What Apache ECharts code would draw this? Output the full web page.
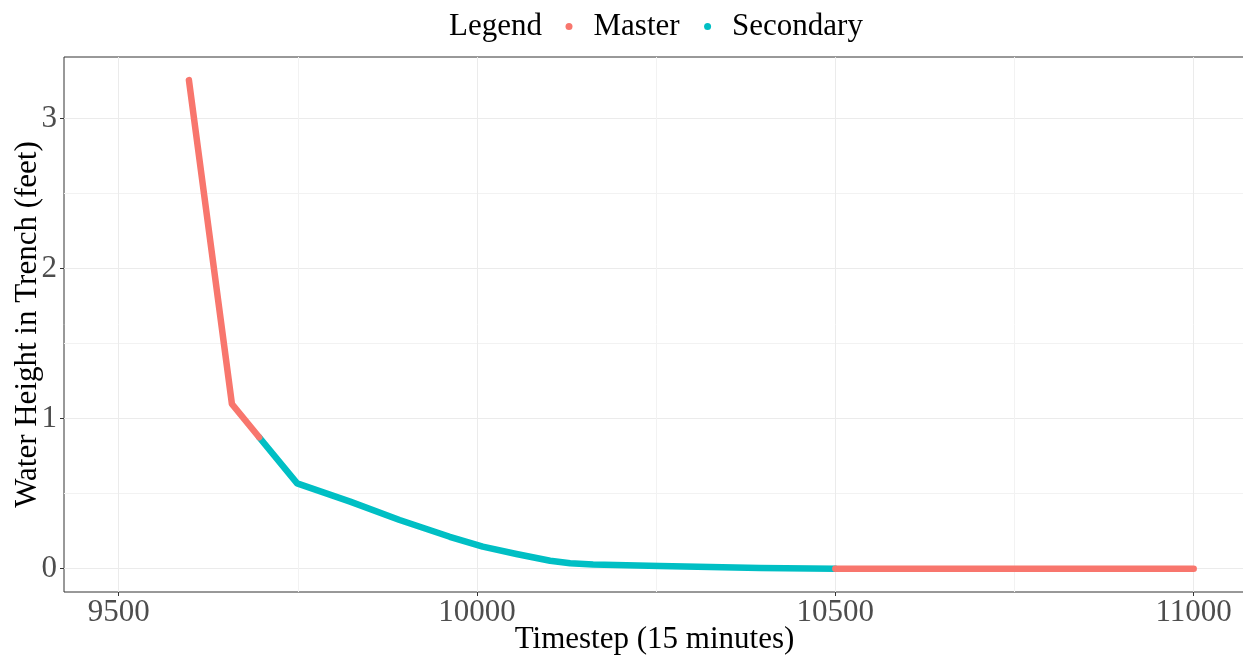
<!DOCTYPE html>
<html>
<head>
<meta charset="utf-8">
<script src="https://cdn.jsdelivr.net/npm/echarts@6/dist/echarts.min.js"></script>
<style>
  html, body { margin: 0; padding: 0; background: #ffffff; }
  #chart { width: 1243px; height: 658px; }
</style>
</head>
<body>
<div id="chart"></div>
<script>
// Water height in the trench over time, split by which unit is in control
const masterTimesteps1 = [9598, 9658, 9696];
const masterHeights1 = [3.256, 1.098, 0.876];

const secondaryTimesteps = [9696, 9749, 9823, 9892, 9962, 10008, 10055, 10102, 10130, 10162, 10255, 10395, 10500];
const secondaryHeights = [0.876, 0.569, 0.447, 0.325, 0.213, 0.147, 0.098, 0.053, 0.036, 0.028, 0.018, 0.005, 0];

const masterTimesteps2 = [10500, 11000];
const masterHeights2 = [0, 0];

const xTickValues = [9500, 10000, 10500, 11000];
const yTickValues = [0, 1, 2, 3];

const legendNames = ['Master', 'Secondary'];
const MASTER_COLOR = '#F8766D';
const SECONDARY_COLOR = '#00BFC4';

const FONT = '"Liberation Serif", "Times New Roman", serif';

function pairs(xs, ys) {
  return xs.map((x, i) => [x, ys[i]]);
}

function segment(name, color, xs, ys, z) {
  return {
    name: name,
    type: 'line',
    data: pairs(xs, ys),
    showSymbol: false,
    symbol: 'circle',
    color: color,
    z: z,
    animation: false,
    lineStyle: { color: color, width: 6.5, cap: 'round', join: 'round' }
  };
}

const chart = echarts.init(document.getElementById('chart'), null, { renderer: 'canvas' });

chart.setOption({
  backgroundColor: '#ffffff',
  animation: false,
  graphic: [{
    type: 'text',
    left: 449,
    top: 11,
    style: { text: 'Legend', font: '31px ' + FONT, fill: '#000000' }
  }],
  legend: {
    data: legendNames.map(n => ({ name: n, icon: 'circle' })),
    left: 565.5,
    top: 11,
    padding: 0,
    itemWidth: 39,
    itemHeight: 7,
    itemGap: 24.5,
    textStyle: { fontFamily: FONT, fontSize: 31, color: '#000000' }
  },
  grid: {
    left: 64,
    right: -2,
    top: 57,
    bottom: 66,
    containLabel: false,
    outerBoundsMode: 'none',
    show: true,
    borderColor: '#333333',
    borderWidth: 1
  },
  xAxis: {
    type: 'value',
    min: 9423.7,
    max: 11071.6,
    splitNumber: 3,
    name: 'Timestep (15 minutes)',
    nameLocation: 'middle',
    nameGap: 32,
    nameMoveOverlap: false,
    nameTextStyle: { fontFamily: FONT, fontSize: 31, color: '#000000' },
    axisLine: { show: false, onZero: false },
    axisTick: { show: true, length: 4, customValues: xTickValues, lineStyle: { color: '#333333' } },
    axisLabel: {
      customValues: xTickValues,
      formatter: v => String(v),
      fontFamily: FONT, fontSize: 31, color: '#4D4D4D', margin: 5
    },
    splitLine: { show: true, lineStyle: { color: '#EBEBEB', width: 1 } },
    minorTick: { show: false, splitNumber: 2 },
    minorSplitLine: { show: true, lineStyle: { color: '#F2F2F2', width: 1 } }
  },
  yAxis: {
    type: 'value',
    min: -0.155,
    max: 3.41,
    splitNumber: 4,
    name: 'Water Height in Trench (feet)',
    nameLocation: 'middle',
    nameGap: 21,
    nameMoveOverlap: false,
    nameTextStyle: { fontFamily: FONT, fontSize: 31, color: '#000000' },
    axisLine: { show: false, onZero: false },
    axisTick: { show: true, length: 4, customValues: yTickValues, lineStyle: { color: '#333333' } },
    axisLabel: {
      customValues: yTickValues,
      formatter: v => String(v),
      fontFamily: FONT, fontSize: 31, color: '#4D4D4D', margin: 7
    },
    splitLine: { show: true, lineStyle: { color: '#EBEBEB', width: 1 } },
    minorTick: { show: false, splitNumber: 2 },
    minorSplitLine: { show: true, lineStyle: { color: '#F2F2F2', width: 1 } }
  },
  series: [
    segment('Secondary', SECONDARY_COLOR, secondaryTimesteps, secondaryHeights, 2),
    segment('Master', MASTER_COLOR, masterTimesteps1, masterHeights1, 3),
    segment('Master', MASTER_COLOR, masterTimesteps2, masterHeights2, 3)
  ]
});
</script>
</body>
</html>
